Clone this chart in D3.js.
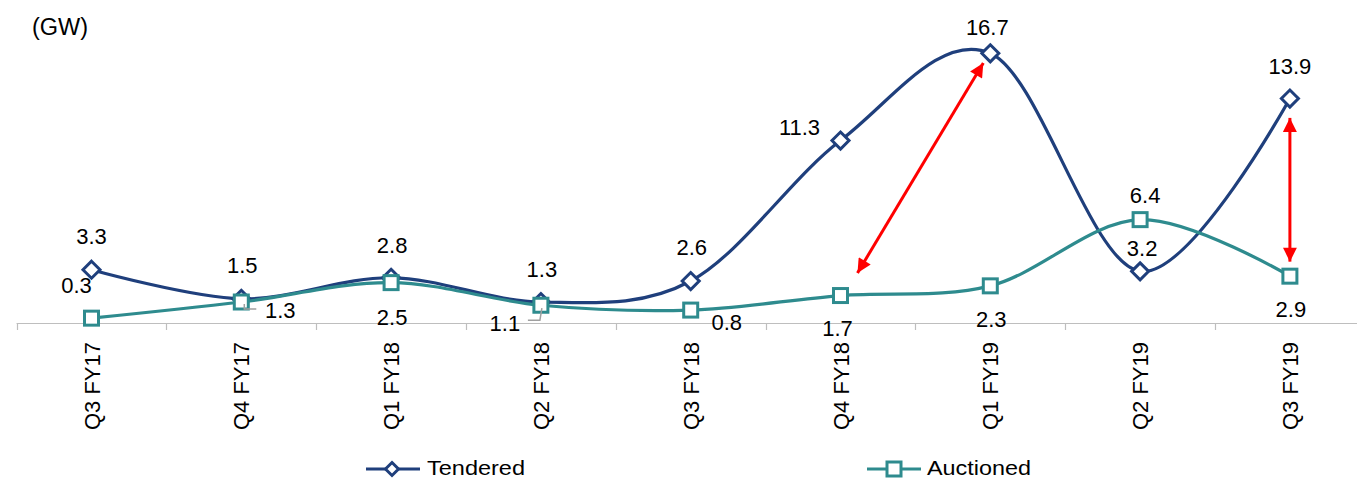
<!DOCTYPE html>
<html>
<head>
<meta charset="utf-8">
<script src="https://cdn.jsdelivr.net/npm/d3@7"></script>
<style>
  html, body { margin: 0; padding: 0; background: #fff; }
  svg { display: block; font-family: Arial, "Liberation Sans", sans-serif; }
</style>
</head>
<body>
<svg id="chart" width="1357" height="479"></svg>
<script>
// ---- data ----
const categories = ["Q3 FY17", "Q4 FY17", "Q1 FY18", "Q2 FY18", "Q3 FY18", "Q4 FY18", "Q1 FY19", "Q2 FY19", "Q3 FY19"];
const tendered   = [3.3, 1.5, 2.8, 1.3, 2.6, 11.3, 16.7, 3.2, 13.9];
const auctioned  = [0.3, 1.3, 2.5, 1.1, 0.8, 1.7, 2.3, 6.4, 2.9];
const seriesNames = ["Tendered", "Auctioned"];
const unitLabel = "(GW)";

// label offsets (pixels, relative to point) for data label centres
const tenderedLabelOffsets = [[0,-34],[1,-34],[1,-33],[1,-33],[1,-34],[-41,-13],[-3,-26],[2,-23],[0,-32]];
const auctionedLabelOffsets = [[-15,-33],[39,8],[1,34],[-36,18],[36,12],[-3,33],[1,33],[5,-25],[1,33]];

const colTend = "#1F3F7C";
const colAuct = "#2E8B8E";

const svg = d3.select("#chart");

const step = 149.8;
const x = d3.scalePoint().domain(categories).range([91.5, 91.5 + 8 * step]);
const y = d3.scaleLinear().domain([0, 20]).range([323, 0]);

// unit label
svg.append("text").attr("x", 32).attr("y", 35).attr("font-size", 23.5).attr("fill", "#000").text(unitLabel);

// x axis line + ticks
const axisG = svg.append("g");
axisG.append("line").attr("x1", x(categories[0]) - step / 2).attr("x2", 1357)
  .attr("y1", y(0) + 0.5).attr("y2", y(0) + 0.5).attr("stroke", "#BEBEBE").attr("stroke-width", 1.2);
for (let i = 0; i <= categories.length; i++) {
  const tx = Math.round(x(categories[0]) - step / 2 + i * step) + 0.5;
  axisG.append("line").attr("x1", tx).attr("x2", tx).attr("y1", y(0)).attr("y2", y(0) + 7)
    .attr("stroke", "#BEBEBE").attr("stroke-width", 1.2);
}
// category labels
categories.forEach(c => {
  axisG.append("text")
    .attr("transform", `translate(${x(c) + 8},342) rotate(-90)`)
    .attr("text-anchor", "end")
    .attr("font-size", 22)
    .attr("fill", "#000")
    .text(c);
});

const line = d3.line().x((d, i) => x(categories[i])).y(d => y(d)).curve(d3.curveCatmullRom.alpha(0));

// Tendered
svg.append("path").datum(tendered).attr("d", line).attr("fill", "none")
  .attr("stroke", colTend).attr("stroke-width", 3.2);
const diamond = (cx, cy, r) => `M${cx},${cy - r}L${cx + r},${cy}L${cx},${cy + r}L${cx - r},${cy}Z`;
svg.selectAll(".tm").data(tendered).enter().append("path")
  .attr("d", (d, i) => diamond(x(categories[i]), y(d), 8.5))
  .attr("fill", "#fff").attr("stroke", colTend).attr("stroke-width", 3);

// Auctioned
svg.append("path").datum(auctioned).attr("d", line).attr("fill", "none")
  .attr("stroke", colAuct).attr("stroke-width", 3.2);
svg.selectAll(".am").data(auctioned).enter().append("rect")
  .attr("x", (d, i) => x(categories[i]) - 7).attr("y", d => y(d) - 7)
  .attr("width", 14).attr("height", 14)
  .attr("fill", "#fff").attr("stroke", colAuct).attr("stroke-width", 3);

// leader lines for crowded auctioned labels
const leader = (i, pts) => {
  svg.append("path").attr("d", "M" + pts.map(p => `${x(categories[i]) + p[0]},${y(auctioned[i]) + p[1]}`).join("L"))
    .attr("fill", "none").attr("stroke", "#A0A0A0").attr("stroke-width", 1.5);
};
leader(1, [[3, 2], [3, 7], [15, 7]]);
leader(3, [[1, 3], [-1, 15], [-13, 15]]);

// data labels
const labFs = 22;
const addLabels = (vals, offs) => {
  vals.forEach((v, i) => {
    svg.append("text")
      .attr("x", x(categories[i]) + offs[i][0])
      .attr("y", y(v) + offs[i][1] + labFs * 0.36)
      .attr("text-anchor", "middle").attr("font-size", labFs).attr("fill", "#000")
      .text(d3.format(".1f")(v));
  });
};
addLabels(tendered, tenderedLabelOffsets);
addLabels(auctioned, auctionedLabelOffsets);

// red arrows
const defs = svg.append("defs");
["s", "e"].forEach(k => {
  defs.append("marker").attr("id", "ah" + k)
    .attr("viewBox", "0 0 10 10").attr("refX", 10).attr("refY", 5)
    .attr("markerWidth", 16).attr("markerHeight", 14)
    .attr("markerUnits", "userSpaceOnUse")
    .attr("orient", "auto-start-reverse")
    .append("path").attr("d", "M0,0L10,5L0,10Z").attr("fill", "#FF0000");
});
const arrow = (x1, y1, x2, y2) => {
  svg.append("line").attr("x1", x1).attr("y1", y1).attr("x2", x2).attr("y2", y2)
    .attr("stroke", "#FF0000").attr("stroke-width", 3)
    .attr("marker-start", "url(#ahs)").attr("marker-end", "url(#ahe)");
};
arrow(x("Q4 FY18") + 17, y(3.1), x("Q1 FY19") - 7, y(16.1));
arrow(x("Q3 FY19"), y(12.7), x("Q3 FY19"), y(3.8));

// legend
const legY = 469;
const lg = svg.append("g");
lg.append("line").attr("x1", 366).attr("x2", 420).attr("y1", legY).attr("y2", legY).attr("stroke", colTend).attr("stroke-width", 3.2);
lg.append("path").attr("d", diamond(392, legY, 6.5)).attr("fill", "#fff").attr("stroke", colTend).attr("stroke-width", 3);
lg.append("text").attr("x", 427).attr("y", 475).attr("font-size", 21).attr("fill", "#000")
  .attr("textLength", 98).attr("lengthAdjust", "spacingAndGlyphs").text(seriesNames[0]);
lg.append("line").attr("x1", 867).attr("x2", 921).attr("y1", legY).attr("y2", legY).attr("stroke", colAuct).attr("stroke-width", 3.2);
lg.append("rect").attr("x", 887).attr("y", legY - 7).attr("width", 14).attr("height", 14).attr("fill", "#fff").attr("stroke", colAuct).attr("stroke-width", 3);
lg.append("text").attr("x", 927).attr("y", 475).attr("font-size", 21).attr("fill", "#000")
  .attr("textLength", 104).attr("lengthAdjust", "spacingAndGlyphs").text(seriesNames[1]);
</script>
</body>
</html>
